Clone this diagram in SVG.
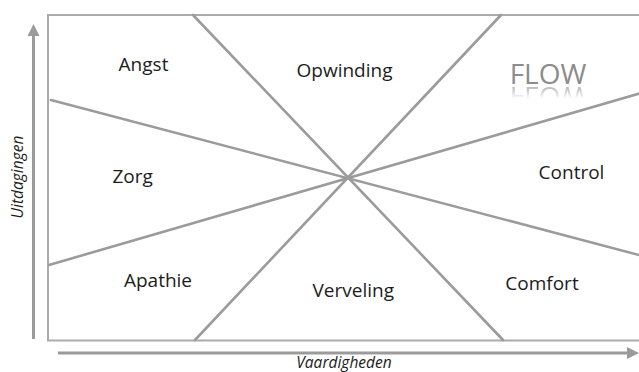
<svg xmlns="http://www.w3.org/2000/svg" xmlns:xlink="http://www.w3.org/1999/xlink" width="639" height="372" viewBox="0 0 639 372">
  <style>
    .frame { fill: none; stroke: #ababab; stroke-width: 2; }
    .div { stroke: #9b9b9b; stroke-width: 2.6; stroke-linecap: round; fill: none; }
    .axis { stroke: #9b9b9b; stroke-width: 3; fill: none; }
    .head { fill: #9b9b9b; }
    .lbl { font-family: "Open Sans", "Noto Sans", sans-serif; font-size: 19px; fill: #1c1c1c; text-anchor: middle; }
    .ax { font-family: "Open Sans", "Noto Sans", sans-serif; font-style: italic; font-size: 15.5px; fill: #1c1c1c; text-anchor: middle; }
    .flow { font-family: "Open Sans", "Noto Sans", sans-serif; font-size: 28px; fill: #8c8c8c; text-anchor: middle; }
  </style>
  <defs>
    <linearGradient id="fade" x1="0" y1="0" x2="0" y2="1">
      <stop offset="0" stop-color="#fff" stop-opacity="0.7"/>
      <stop offset="1" stop-color="#fff" stop-opacity="0"/>
    </linearGradient>
    <mask id="reflMask" maskUnits="userSpaceOnUse" x="490" y="85" width="120" height="14">
      <rect x="490" y="85" width="120" height="14" fill="url(#fade)"/>
    </mask>
  </defs>

  <rect width="639" height="372" fill="#ffffff"/>

  <!-- axes -->
  <g id="axes">
    <line class="axis" x1="33.5" y1="339" x2="33.5" y2="34"/>
    <polygon class="head" points="33.5,24 27.5,36 39.5,36"/>
    <line class="axis" x1="58" y1="353" x2="628" y2="353"/>
    <polygon class="head" points="639,353 627,347 627,359"/>
    <text class="ax" transform="translate(23,177) rotate(-90)">Uitdagingen</text>
    <text class="ax" x="344" y="368">Vaardigheden</text>
  </g>

  <!-- frame and dividing lines -->
  <g id="connectors">
    <rect class="frame" x="48" y="15" width="600" height="325.5"/>
    <line class="div" x1="193" y1="15" x2="503" y2="340"/>
    <line class="div" x1="501" y1="15" x2="195" y2="340"/>
    <line class="div" x1="51" y1="100" x2="641" y2="255.5"/>
    <line class="div" x1="49" y1="265" x2="641" y2="93"/>
  </g>

  <!-- regions -->
  <g id="angst"><text class="lbl" x="143.5" y="71">Angst</text></g>
  <g id="opwinding"><text class="lbl" x="344.5" y="77">Opwinding</text></g>
  <g id="flow">
    <text id="flowText" class="flow" x="548" y="83.5">FLOW</text>
    <!-- mirrored, fading reflection under the word -->
    <g mask="url(#reflMask)">
      <use xlink:href="#flowText" href="#flowText" transform="translate(0,170) scale(1,-1)"/>
    </g>
  </g>
  <g id="zorg"><text class="lbl" x="132.7" y="183">Zorg</text></g>
  <g id="control"><text class="lbl" x="571.5" y="179">Control</text></g>
  <g id="apathie"><text class="lbl" x="158" y="286.5">Apathie</text></g>
  <g id="verveling"><text class="lbl" x="353.3" y="297">Verveling</text></g>
  <g id="comfort"><text class="lbl" x="542" y="290">Comfort</text></g>
</svg>
